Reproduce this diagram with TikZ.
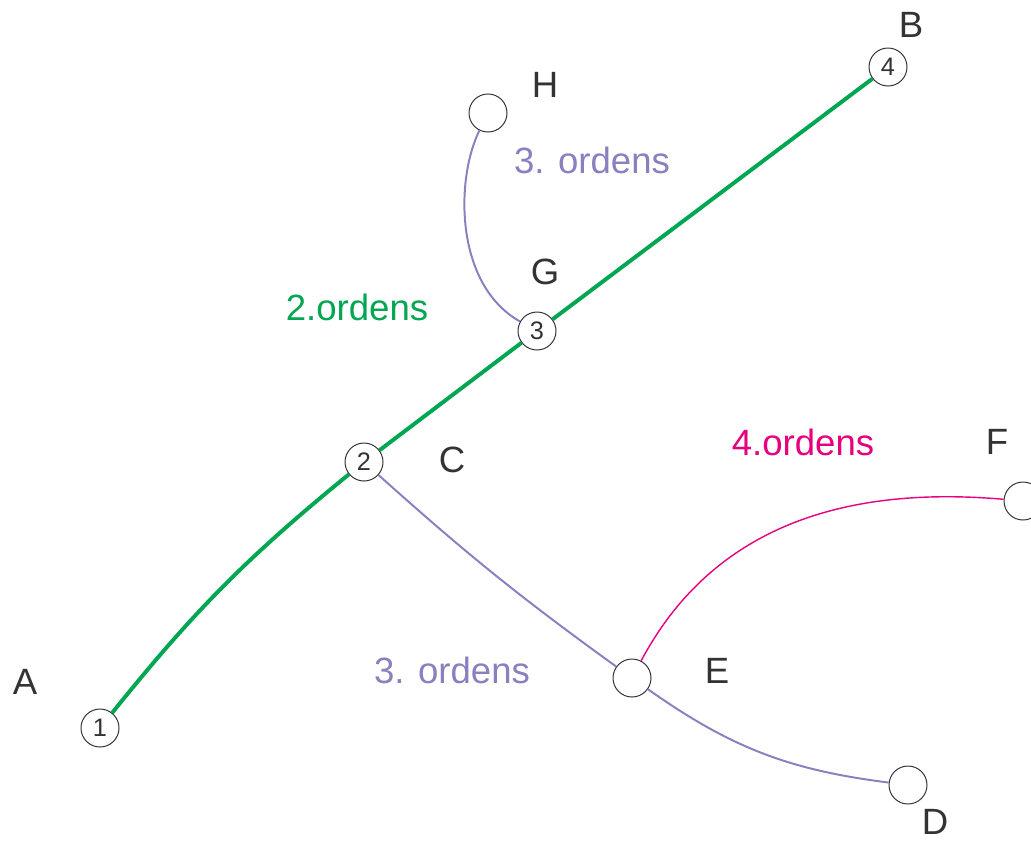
\documentclass[tikz,border=0pt]{standalone}
\usepackage{fontspec}
\setmainfont{Liberation Sans}
\usepackage{tikz}
\usetikzlibrary{positioning}

\definecolor{ordgreen}{RGB}{0,166,81}
\definecolor{ordpurple}{RGB}{137,128,192}
\definecolor{ordpink}{RGB}{230,0,126}
\definecolor{txtgray}{RGB}{51,51,51}

\begin{document}
\begin{tikzpicture}[
    x=0.025cm, y=-0.025cm,
    junction/.style={circle, draw=txtgray, line width=0.7pt, fill=white, minimum size=0.95cm, inner sep=0pt, font=\fontsize{18}{20}\selectfont, text=txtgray},
    letter/.style={font=\fontsize{26}{30}\selectfont, text=txtgray, inner sep=1pt},
    ordlabel/.style={font=\fontsize{26}{30}\selectfont},
    second/.style={ordgreen, line width=2.8pt},
    third/.style={ordpurple, line width=1.4pt},
    fourth/.style={ordpink, line width=1pt},
]
    \useasboundingbox (0,0) rectangle (1031,843);

    % Nodes
    \node[junction] (n1) at (100,728) {1};
    \node[junction] (n2) at (364,462) {2};
    \node[junction] (n3) at (537,331) {3};
    \node[junction] (n4) at (888,67) {4};
    \node[junction] (h) at (488,113) {};
    \node[junction] (e) at (632,678) {};
    \node[junction] (d) at (908,785) {};
    \node[junction] (f) at (1023,501) {};

    % Streams
    \draw[second] (n1) to[bend left=6] (n2);
    \draw[second] (n2) -- (n3) -- (n4);
    \draw[third] (n3) .. controls (455,285) and (455,180) .. (h);
    \draw[third] (n2) to[bend right=3] (e);
    \draw[third] (e) to[bend right=14] (d);
    \draw[fourth] (e) to[out=62, in=175] (f);

    % Letters
    \node[letter] (labA) at (25,682) {A};
    \node[letter] (labB) at (911,25) {B};
    \node[letter] (labC) at (452,460) {C};
    \node[letter] (labD) at (935,822) {D};
    \node[letter] (labE) at (717,671) {E};
    \node[letter] (labF) at (997,442) {F};
    \node[letter] (labG) at (545,272) {G};
    \node[letter] (labH) at (545,85) {H};

    % Orders
    \node[ordlabel, text=ordgreen] (ord2) at (357,307) {2.ordens};
    \node[ordlabel, text=ordpurple] (ord3a) at (592,160) {3. ordens};
    \node[ordlabel, text=ordpurple] (ord3b) at (452,670) {3. ordens};
    \node[ordlabel, text=ordpink] (ord4) at (803,442) {4.ordens};
\end{tikzpicture}
\end{document}
